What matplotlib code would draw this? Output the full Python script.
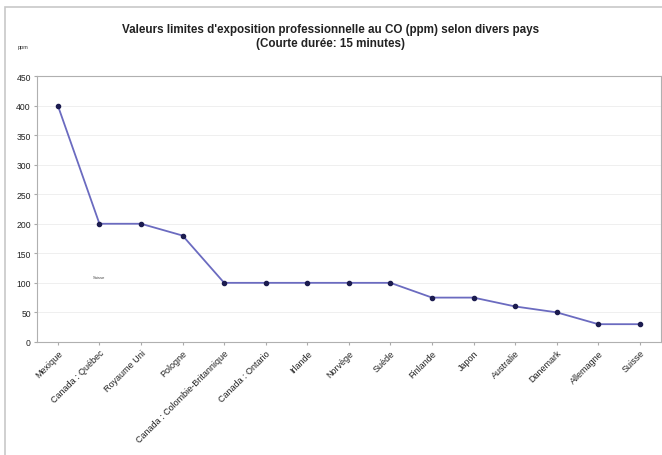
import matplotlib
matplotlib.use("Agg")
import matplotlib.pyplot as plt
from matplotlib.patches import Rectangle

pays = [
    "Mexique", "Canada : Québec", "Royaume Uni", "Pologne",
    "Canada : Colombie-Britannique", "Canada : Ontario", "Irlande", "Norvège",
    "Suède", "Finlande", "Japon", "Australie", "Danemark", "Allemagne", "Suisse",
]
ppm = [400, 200, 200, 180, 100, 100, 100, 100, 100, 75, 75, 60, 50, 30, 30]
yticks = [0, 50, 100, 150, 200, 250, 300, 350, 400, 450]

plt.rcParams["font.family"] = ["Liberation Sans", "DejaVu Sans"]

fig = plt.figure(figsize=(6.62, 4.56), dpi=100)
ax = fig.add_axes([0.056, 0.248, 0.942, 0.583])

# cadre extérieur
fig.patches.append(Rectangle((0.008, -0.01), 1.2, 0.993, transform=fig.transFigure,
                             fill=False, edgecolor="#c8c8c8", linewidth=1.2))

x = list(range(len(pays)))
ax.plot(x, ppm, color="#6b6bc0", linewidth=1.3, marker="o", markersize=3,
        markerfacecolor="#1c1c50", markeredgecolor="#1c1c50")

ax.set_xlim(-0.5, len(pays) - 0.5)
ax.set_ylim(0, 450)
ax.set_yticks(yticks)
ax.set_yticklabels([str(v) for v in yticks], fontsize=6.2, color="#222222")
ax.set_xticks(x)
ax.set_xticklabels(pays, rotation=45, ha="right", rotation_mode="anchor",
                   fontsize=6.5, color="#222222")
ax.tick_params(axis="both", length=2, color="#aaaaaa", pad=2.5)
ax.grid(axis="y", color="#ededed", linewidth=0.6)
for s in ax.spines.values():
    s.set_color("#b0b0b0")
    s.set_linewidth(0.8)

ax.text(0.85, 108, "Suisse", fontsize=3, color="#444444")

fig.text(0.5, 0.928, "Valeurs limites d'exposition professionnelle au CO (ppm) selon divers pays",
         ha="center", fontsize=8.4, fontweight="bold", color="#222222")
fig.text(0.5, 0.897, "(Courte durée: 15 minutes)", ha="center", fontsize=8.4,
         fontweight="bold", color="#222222")
fig.text(0.027, 0.892, "ppm", fontsize=4, color="#333333")

fig.savefig("out.png", dpi=100)
